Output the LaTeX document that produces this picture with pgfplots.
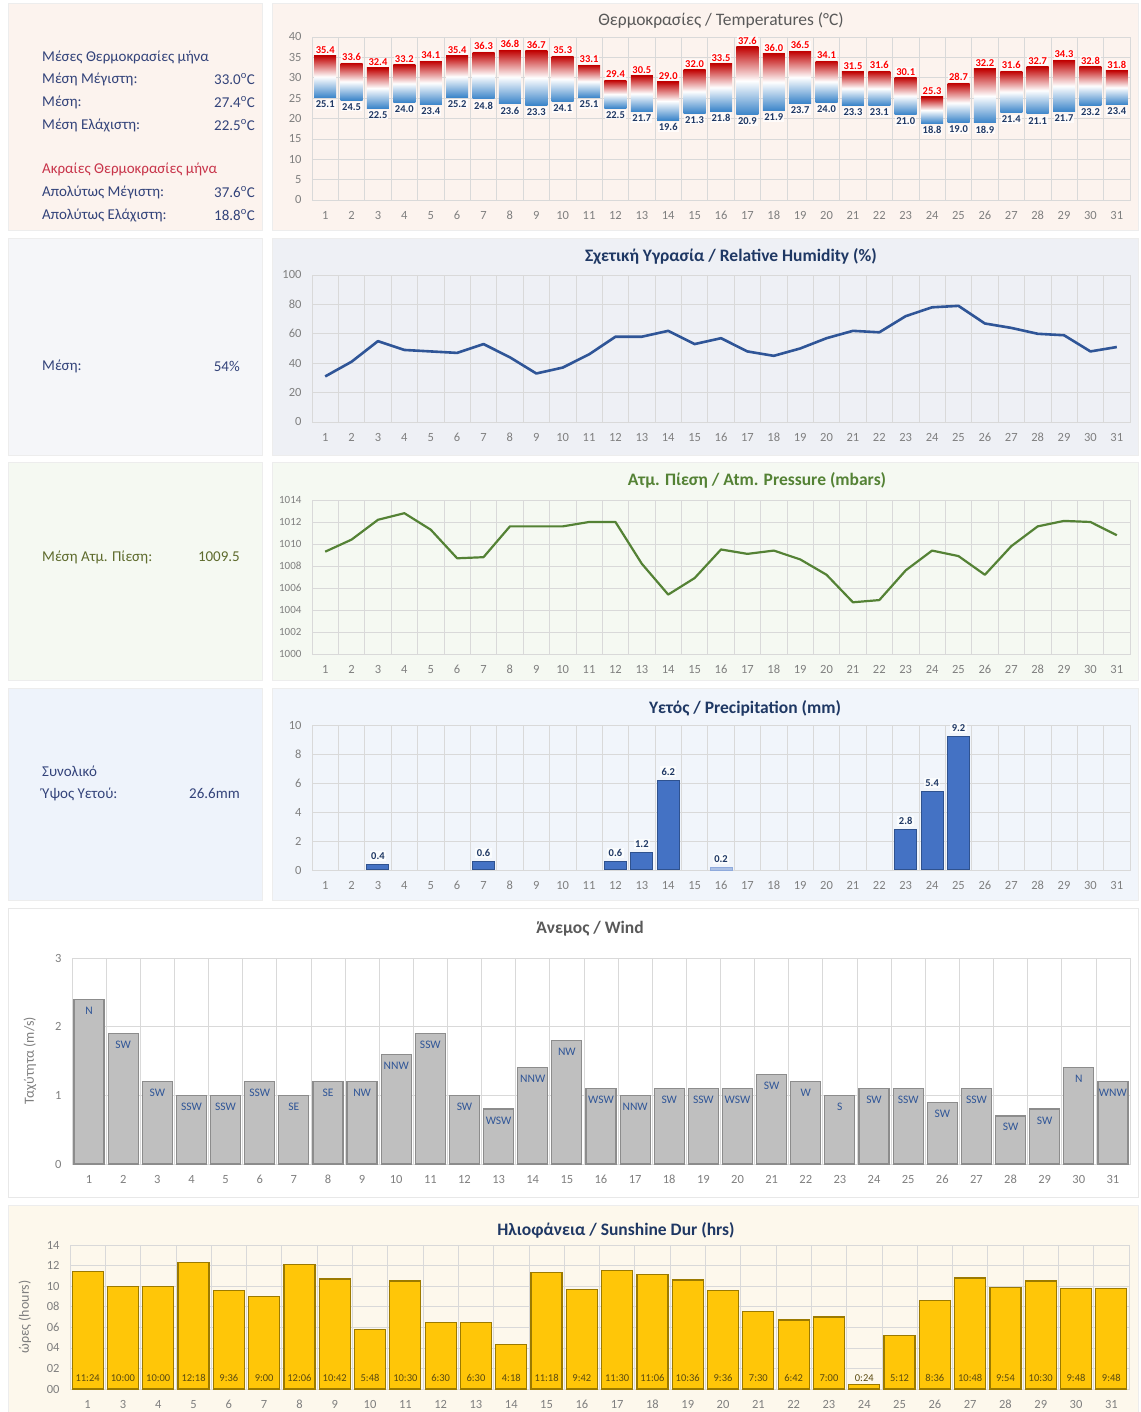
\documentclass[border=0pt]{standalone}
\usepackage{fontspec}
\setmainfont{Carlito}[Numbers=Lining]
\usepackage{pgfplots}
\pgfplotsset{compat=1.18}
\usepackage{pgfplotstable}

\definecolor{peach}{HTML}{FCF3EE}
\definecolor{huml}{HTML}{F5F6F9}
\definecolor{humr}{HTML}{EEF0F5}
\definecolor{pres}{HTML}{F5F9F2}
\definecolor{precl}{HTML}{EEF3FB}
\definecolor{precr}{HTML}{F1F5FB}
\definecolor{sunbg}{HTML}{FDF8EC}
\definecolor{navy}{HTML}{1F3864}
\definecolor{txtnavy}{HTML}{33437A}
\definecolor{txtred}{HTML}{C8344A}
\definecolor{txtolive}{HTML}{5E6B2D}
\definecolor{gridc}{HTML}{D9D9D9}
\definecolor{tickc}{HTML}{7F7F7F}
\definecolor{titgray}{HTML}{595959}
\definecolor{tred}{HTML}{C00000}
\definecolor{tblue}{HTML}{3A84C9}
\definecolor{humline}{HTML}{2F5597}
\definecolor{presline}{HTML}{548235}
\definecolor{precbar}{HTML}{4472C4}
\definecolor{precedge}{HTML}{2F528F}
\definecolor{windbar}{HTML}{BFBFBF}
\definecolor{windedge}{HTML}{8C8C8C}
\definecolor{winddir}{HTML}{2F5597}
\definecolor{sunbar}{HTML}{FFC608}
\definecolor{sunedge}{HTML}{9C7A00}
\definecolor{sunlab}{HTML}{5A4A10}

\newcommand\fs[1]{\fontsize{#1}{#1}\selectfont}

\pgfplotstableread{
d tmin tmax
1 25.1 35.4
2 24.5 33.6
3 22.5 32.4
4 24.0 33.2
5 23.4 34.1
6 25.2 35.4
7 24.8 36.3
8 23.6 36.8
9 23.3 36.7
10 24.1 35.3
11 25.1 33.1
12 22.5 29.4
13 21.7 30.5
14 19.6 29.0
15 21.3 32.0
16 21.8 33.5
17 20.9 37.6
18 21.9 36.0
19 23.7 36.5
20 24.0 34.1
21 23.3 31.5
22 23.1 31.6
23 21.0 30.1
24 18.8 25.3
25 19.0 28.7
26 18.9 32.2
27 21.4 31.6
28 21.1 32.7
29 21.7 34.3
30 23.2 32.8
31 23.4 31.8
}\temps

\pgfplotstableread{
d h
1 31
2 41
3 55
4 49
5 48
6 47
7 53
8 44
9 33
10 37
11 46
12 58
13 58
14 62
15 53
16 57
17 48
18 45
19 50
20 57
21 62
22 61
23 72
24 78
25 79
26 67
27 64
28 60
29 59
30 48
31 51
}\hum

\pgfplotstableread{
d p
1 1009.3
2 1010.4
3 1012.2
4 1012.8
5 1011.3
6 1008.7
7 1008.8
8 1011.6
9 1011.6
10 1011.6
11 1012.0
12 1012.0
13 1008.2
14 1005.4
15 1006.9
16 1009.5
17 1009.1
18 1009.4
19 1008.6
20 1007.2
21 1004.7
22 1004.9
23 1007.6
24 1009.4
25 1008.9
26 1007.2
27 1009.8
28 1011.6
29 1012.1
30 1012.0
31 1010.8
}\pres

\pgfplotstableread{
d r
3 0.4
7 0.6
12 0.6
13 1.2
14 6.2
23 2.8
24 5.4
25 9.2
}\rain

\pgfplotstableread{
d v dir
1 2.4 N
2 1.9 SW
3 1.2 SW
4 1.0 SSW
5 1.0 SSW
6 1.2 SSW
7 1.0 SE
8 1.2 SE
9 1.2 NW
10 1.6 NNW
11 1.9 SSW
12 1.0 SW
13 0.8 WSW
14 1.4 NNW
15 1.8 NW
16 1.1 WSW
17 1.0 NNW
18 1.1 SW
19 1.1 SSW
20 1.1 WSW
21 1.3 SW
22 1.2 W
23 1.0 S
24 1.1 SW
25 1.1 SSW
26 0.9 SW
27 1.1 SSW
28 0.7 SW
29 0.8 SW
30 1.4 N
31 1.2 WNW
}\wind

\pgfplotstableread{
i h lab
1 11.4 11:24
2 10.0 10:00
3 10.0 10:00
4 12.3 12:18
5 9.6 9:36
6 9.0 9:00
7 12.1 12:06
8 10.7 10:42
9 5.8 5:48
10 10.5 10:30
11 6.5 6:30
12 6.5 6:30
13 4.3 4:18
14 11.3 11:18
15 9.7 9:42
16 11.5 11:30
17 11.1 11:06
18 10.6 10:36
19 9.6 9:36
20 7.5 7:30
21 6.7 6:42
22 7.0 7:00
23 0.4 0:24
24 5.2 5:12
25 8.6 8:36
26 10.8 10:48
27 9.9 9:54
28 10.5 10:30
29 9.8 9:48
30 9.8 9:48
}\sun

\pgfplotsset{
  panel/.style={
    scale only axis, anchor=south west,
    xmin=0.5, xmax=31.5, xtick={1,...,31},
    minor xtick={0.5,1.5,...,31.5},
    xminorgrids, ymajorgrids,
    major grid style={gridc, line width=0.7pt},
    minor grid style={gridc, line width=0.7pt},
    axis line style={gridc, line width=0.7pt},
    major tick length=0pt, minor tick length=0pt,
    tick label style={font=\fs{12.5}, text=tickc},
    xticklabel style={yshift=-8pt, text height=8pt, text depth=0pt},
    yticklabel style={xshift=-7pt},
    /pgf/number format/assume math mode=true,
    /pgf/number format/1000 sep={},
    clip=false,
  },
  tpos/.style={at={(312pt,1212pt)}, width=818pt, height=163pt, ymin=0, ymax=40},
}

\begin{document}
\begin{tikzpicture}[x=1pt,y=1pt]
\path[use as bounding box, fill=white] (0,0) rectangle (1140,1412);

% panels
\fill[peach, draw=black!7] (8,1182) rectangle (262,1409);
\fill[peach, draw=black!7] (272,1182) rectangle (1138,1409);
\fill[huml, draw=black!7] (8,957) rectangle (262,1174);
\fill[humr, draw=black!7] (272,957) rectangle (1138,1174);
\fill[pres, draw=black!7] (8,732) rectangle (262,950);
\fill[pres, draw=black!7] (272,732) rectangle (1138,950);
\fill[precl, draw=black!7] (8,512) rectangle (262,724);
\fill[precr, draw=black!7] (272,512) rectangle (1138,724);
\fill[white, draw=black!9] (8,215) rectangle (1138,504);
\fill[sunbg, draw=black!7] (8,0) rectangle (1138,207);

% left texts
\begin{scope}[every node/.style={font=\fs{15}, inner sep=0pt}]
\node[anchor=west, text=txtnavy] at (42,1355) {Μέσες Θερμοκρασίες μήνα};
\node[anchor=west, text=txtnavy] at (42,1333) {Μέση Μέγιστη:};
\node[anchor=east, text=txtnavy] at (255,1333) {33.0\textsuperscript{o}C};
\node[anchor=west, text=txtnavy] at (42,1310) {Μέση:};
\node[anchor=east, text=txtnavy] at (255,1310) {27.4\textsuperscript{o}C};
\node[anchor=west, text=txtnavy] at (42,1287) {Μέση Ελάχιστη:};
\node[anchor=east, text=txtnavy] at (255,1287) {22.5\textsuperscript{o}C};
\node[anchor=west, text=txtred] at (42,1243) {Ακραίες Θερμοκρασίες μήνα};
\node[anchor=west, text=txtnavy] at (42,1220) {Απολύτως Μέγιστη:};
\node[anchor=east, text=txtnavy] at (255,1220) {37.6\textsuperscript{o}C};
\node[anchor=west, text=txtnavy] at (42,1197) {Απολύτως Ελάχιστη:};
\node[anchor=east, text=txtnavy] at (255,1197) {18.8\textsuperscript{o}C};
\node[anchor=west, text=txtnavy] at (42,1046) {Μέση:};
\node[anchor=east, text=txtnavy] at (240,1046) {54\%};
\node[anchor=west, text=txtolive] at (42,855) {Μέση Ατμ. Πίεση:};
\node[anchor=east, text=txtolive] at (240,855) {1009.5};
\node[anchor=west, text=txtnavy] at (42,641) {Συνολικό};
\node[anchor=west, text=txtnavy] at (42,618) {Ύψος Υετού:};
\node[anchor=east, text=txtnavy] at (240,618) {26.6mm};
\end{scope}

% titles
\node[font=\fs{17.5}, text=titgray] at (721,1391) {Θερμοκρασίες / Temperatures (°C)};
\node[font=\fs{17.5}\bfseries, text=navy] at (731,1156) {Σχετική Υγρασία / Relative Humidity (\%)};
\node[font=\fs{17.5}\bfseries, text=presline] at (757,932) {Ατμ. Πίεση / Atm. Pressure (mbars)};
\node[font=\fs{17.5}\bfseries, text=navy] at (745,704) {Υετός / Precipitation (mm)};
\node[font=\fs{17.5}\bfseries, text=titgray] at (590,483) {Άνεμος / Wind};
\node[font=\fs{17.5}\bfseries, text=navy] at (616,182) {Ηλιοφάνεια / Sunshine Dur (hrs)};

% temperature frame
\begin{axis}[panel, tpos, ytick={0,5,...,40}]
\addplot[draw=none, mark=none] table[x=d, y=tmin] \temps;
\end{axis}
% temperature bars, one axis per day so that each bar gets its own gradient
\pgfplotsinvokeforeach{1,...,31}{
\begin{axis}[panel, tpos, hide axis, ybar stacked, bar width=22pt,
  restrict x to domain=#1:#1]
\addplot[draw=none, fill=none] table[x=d, y=tmin] \temps;
\addplot[draw=none, top color=tred, bottom color=tblue, middle color=white]
  table[x=d, y expr=\thisrow{tmax}-\thisrow{tmin}] \temps;
\end{axis}
}
% temperature labels
\begin{axis}[panel, tpos, hide axis]
\addplot[draw=none, mark=none, nodes near coords, point meta=explicit symbolic,
  every node near coord/.append style={anchor=south, yshift=1pt, font=\fs{10.5}\bfseries, text=red, fill=white, fill opacity=0.75, text opacity=1, inner sep=1pt}]
  table[x=d, y=tmax, meta=tmax] \temps;
\addplot[draw=none, mark=none, nodes near coords, point meta=explicit symbolic,
  every node near coord/.append style={anchor=north, yshift=-2pt, font=\fs{10.5}\bfseries, text=navy, fill=white, fill opacity=0.75, text opacity=1, inner sep=1pt}]
  table[x=d, y=tmin, meta=tmin] \temps;
\end{axis}

% humidity
\begin{axis}[panel, at={(312pt,990pt)}, width=818pt, height=147pt,
  ymin=0, ymax=100, ytick={0,20,...,100}]
\addplot[humline, line width=2.6pt, mark=none, line join=round] table[x=d, y=h] \hum;
\end{axis}

% pressure
\begin{axis}[panel, at={(312pt,758pt)}, width=818pt, height=154pt,
  ymin=1000, ymax=1014, ytick={1000,1002,...,1014},
  yticklabel style={font=\fs{11}}]
\addplot[presline, line width=2.2pt, mark=none, line join=round] table[x=d, y=p] \pres;
\end{axis}

% precipitation
\begin{axis}[panel, at={(312pt,542pt)}, width=818pt, height=145pt,
  ymin=0, ymax=10, ytick={0,2,...,10}]
\addplot[ybar, bar width=22pt, fill=precbar, draw=precedge, line width=1pt,
  nodes near coords, point meta=explicit symbolic,
  every node near coord/.append style={anchor=south, yshift=3pt, font=\fs{10.5}\bfseries, text=navy, fill=white, fill opacity=0.7, text opacity=1, inner sep=1.5pt}]
  table[x=d, y=r, meta=r] \rain;
\addplot[ybar, bar width=22pt, fill=precbar!45, draw=precbar!60, line width=0.8pt,
  nodes near coords, point meta=explicit symbolic,
  every node near coord/.append style={anchor=south, yshift=3pt, font=\fs{10.5}\bfseries, text=navy, fill=white, fill opacity=0.7, text opacity=1, inner sep=1.5pt}]
  coordinates {(16,0.2) [0.2]};
\end{axis}

% wind
\begin{axis}[panel, at={(72pt,248pt)}, width=1058pt, height=206pt,
  ymin=0, ymax=3, ytick={0,1,2,3},
  ylabel={Ταχύτητα (m/s)}, ylabel style={font=\fs{14}, text=tickc, at={(-42pt,103pt)}, anchor=center}]
\addplot[ybar, bar width=30pt, fill=windbar, draw=windedge, line width=1.2pt,
  nodes near coords, point meta=explicit symbolic,
  every node near coord/.append style={anchor=north, yshift=-7pt, font=\fs{11.5}, text=winddir, inner sep=0pt}]
  table[x=d, y=v, meta=dir] \wind;
\end{axis}

% sunshine
\begin{axis}[panel, at={(70pt,23pt)}, width=1059pt, height=144pt,
  xmin=0.5, xmax=30.5, xtick={1,...,30}, minor xtick={0.5,1.5,...,30.5},
  xticklabels={1,3,4,5,6,7,8,9,10,11,12,13,14,15,16,17,18,19,20,21,22,23,24,25,26,27,28,29,30,31},
  ymin=0, ymax=14, ytick={0,2,...,14}, yticklabels={00,02,04,06,08,10,12,14},
  ylabel={ώρες (hours)}, ylabel style={font=\fs{14}, text=tickc, at={(-45pt,72pt)}, anchor=center}]
\addplot[ybar, bar width=31pt, fill=sunbar, draw=sunedge, line width=1.2pt] table[x=i, y=h] \sun;
\addplot[draw=none, mark=none, nodes near coords, point meta=explicit symbolic,
  every node near coord/.append style={anchor=center, font=\fs{10.5}, text=sunlab, inner sep=0pt}]
  table[x=i, y expr=1.05, meta=lab] \sun;
\end{axis}
\end{tikzpicture}
\end{document}
